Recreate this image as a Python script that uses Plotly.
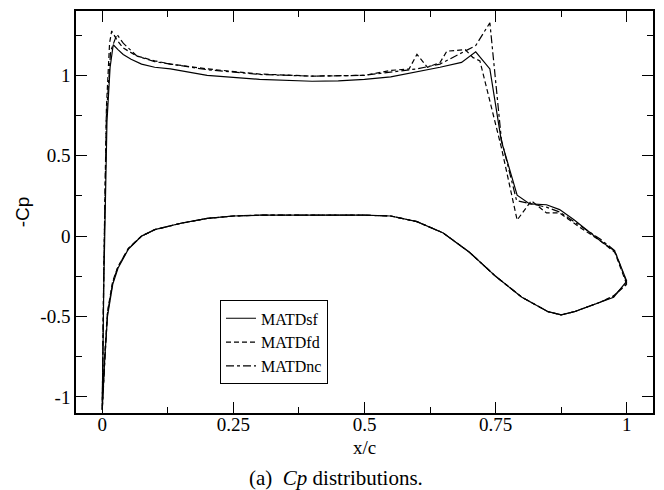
import plotly.graph_objects as go

# ---- data ----
# upper surface, leading edge -> trailing edge
x_up_sf = [0.0, 0.003, 0.009, 0.015, 0.021, 0.03, 0.04, 0.055, 0.075, 0.1, 0.13, 0.2, 0.3, 0.4, 0.45,
           0.5, 0.55, 0.6, 0.644, 0.685, 0.712, 0.739, 0.761, 0.791, 0.815, 0.847, 0.872, 0.9, 0.923,
           0.95, 0.977, 1.0]
cp_up_sf = [-1.08, -0.3, 0.71, 1.05, 1.19, 1.16, 1.13, 1.1, 1.07, 1.05, 1.04, 1.0, 0.975, 0.963, 0.965,
            0.975, 0.99, 1.02, 1.05, 1.08, 1.146, 1.04, 0.59, 0.255, 0.2, 0.195, 0.165, 0.1, 0.041,
            -0.03, -0.093, -0.28]

x_up_fd = [0.0, 0.003, 0.008, 0.014, 0.018, 0.028, 0.04, 0.066, 0.1, 0.13, 0.2, 0.3, 0.4, 0.5, 0.55,
           0.585, 0.6, 0.62, 0.644, 0.657, 0.692, 0.707, 0.72, 0.761, 0.791, 0.818, 0.847, 0.872, 0.91,
           0.95, 0.977, 1.0]
cp_up_fd = [-1.08, -0.2, 0.8, 1.2, 1.276, 1.22, 1.17, 1.12, 1.09, 1.07, 1.04, 1.008, 0.995, 1.0, 1.03,
            1.04, 1.13, 1.05, 1.08, 1.15, 1.16, 1.11, 1.09, 0.55, 0.1, 0.22, 0.144, 0.144, 0.056,
            -0.03, -0.1, -0.3]

x_up_nc = [0.0, 0.003, 0.008, 0.016, 0.028, 0.04, 0.066, 0.1, 0.13, 0.2, 0.3, 0.4, 0.5, 0.6, 0.644,
           0.712, 0.739, 0.761, 0.79, 0.815, 0.847, 0.872, 0.91, 0.95, 0.977, 1.0]
cp_up_nc = [-1.08, -0.2, 0.75, 1.15, 1.255, 1.2, 1.12, 1.085, 1.07, 1.035, 1.005, 0.995, 1.0, 1.04, 1.07,
            1.185, 1.327, 0.6, 0.22, 0.2, 0.18, 0.15, 0.07, -0.02, -0.09, -0.29]

# lower surface, leading edge -> trailing edge
x_lo = [0.0, 0.005, 0.01, 0.02, 0.03, 0.05, 0.075, 0.1, 0.15, 0.2, 0.25, 0.3, 0.35, 0.4, 0.45, 0.5,
        0.55, 0.6, 0.65, 0.7, 0.75, 0.8, 0.85, 0.875, 0.9, 0.95, 0.975, 1.0]
cp_lo_sf = [-1.08, -0.75, -0.5, -0.3, -0.2, -0.08, 0.0, 0.04, 0.08, 0.11, 0.125, 0.13, 0.13, 0.13, 0.13,
            0.13, 0.125, 0.09, 0.02, -0.1, -0.25, -0.38, -0.47, -0.49, -0.47, -0.41, -0.38, -0.28]
cp_lo_fd = [-1.08, -0.72, -0.47, -0.28, -0.19, -0.075, 0.0, 0.04, 0.08, 0.11, 0.125, 0.13, 0.13, 0.13, 0.13,
            0.13, 0.125, 0.09, 0.02, -0.1, -0.25, -0.38, -0.47, -0.49, -0.47, -0.41, -0.37, -0.3]
cp_lo_nc = [-1.08, -0.73, -0.48, -0.29, -0.19, -0.078, 0.0, 0.04, 0.08, 0.11, 0.125, 0.13, 0.13, 0.13, 0.13,
            0.13, 0.125, 0.09, 0.02, -0.1, -0.25, -0.38, -0.47, -0.49, -0.47, -0.41, -0.375, -0.29]

names = ["MATDsf", "MATDfd", "MATDnc"]
dashes = ["solid", "5px,3px", "8px,3px,3px,3px"]

series = [
    (x_up_sf, cp_up_sf, cp_lo_sf),
    (x_up_fd, cp_up_fd, cp_lo_fd),
    (x_up_nc, cp_up_nc, cp_lo_nc),
]

fig = go.Figure()
for (xu, cu, cl), name, dash in zip(series, names, dashes):
    # go round the section: trailing edge -> upper -> leading edge -> lower -> trailing edge
    xs = list(reversed(xu)) + x_lo
    ys = list(reversed(cu)) + cl
    fig.add_trace(go.Scatter(x=xs, y=ys, mode="lines", name=name,
                             line=dict(color="black", width=1.2, dash=dash)))

serif = "Times New Roman, Liberation Serif, Tinos, serif"
sans = "Liberation Sans, Arial, Helvetica, sans-serif"
axis_common = dict(showline=True, linecolor="black", linewidth=1.5, mirror="ticks",
                   ticks="inside", ticklen=11, tickwidth=1, tickcolor="black",
                   showgrid=False, zeroline=False,
                   tickfont=dict(family=serif, size=19, color="black"))

fig.update_xaxes(range=[-0.05, 1.05], tickvals=[0, 0.25, 0.5, 0.75, 1],
                 ticktext=["0", "0.25", "0.5", "0.75", "1"], ticklabelstandoff=-7,
                 minor=dict(ticks="inside", ticklen=6, dtick=0.125, tick0=0, tickcolor="black", showgrid=False),
                 title=dict(text="x/c", font=dict(family=serif, size=19, color="black"), standoff=7),
                 **axis_common)
fig.update_yaxes(range=[-1.1, 1.4], tickvals=[-1, -0.5, 0, 0.5, 1],
                 ticktext=["-1", "-0.5", "0", "0.5", "1"],
                 minor=dict(ticks="inside", ticklen=6, dtick=0.25, tick0=0, tickcolor="black", showgrid=False),
                 title=dict(text="-Cp", font=dict(family=sans, size=19, color="black"), standoff=6),
                 **axis_common)

fig.update_layout(
    width=664, height=490,
    margin=dict(l=76, r=11, t=9, b=77),
    plot_bgcolor="white", paper_bgcolor="white",
    showlegend=True,
    legend=dict(x=(274 - 76) / 577, y=(413 - 342) / 404, xanchor="center", yanchor="middle",
                bgcolor="white", bordercolor="black", borderwidth=1,
                font=dict(family=serif, size=16, color="black"),
                itemwidth=30, tracegroupgap=0),
    annotations=[dict(text="(a)  <i>Cp</i> distributions.", xref="paper", yref="paper",
                      x=(336 - 76) / 577, y=-(478 - 413) / 404, xanchor="center", yanchor="middle",
                      showarrow=False, font=dict(family=serif, size=21, color="black"))],
)

fig.write_html("out.html")
